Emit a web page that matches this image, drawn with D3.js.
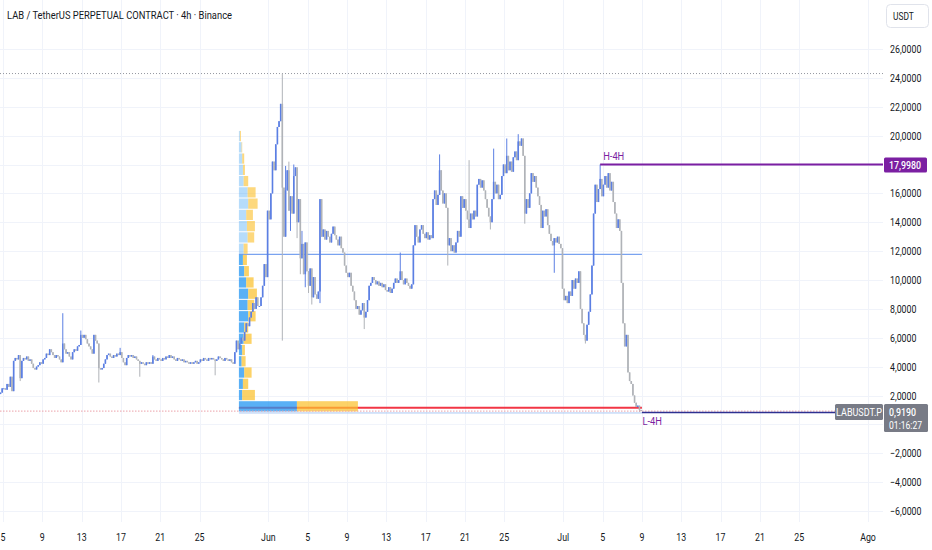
<!DOCTYPE html>
<html>
<head>
<meta charset="utf-8">
<script src="https://cdn.jsdelivr.net/npm/d3@7"></script>
<style>
  body { margin: 0; background: #fff; }
  svg { display: block; font-family: Roboto, "Noto Sans", sans-serif; }
</style>
</head>
<body>
<svg width="932" height="550"></svg>
<script>
// ---- data ----
const title = "LAB / TetherUS PERPETUAL CONTRACT · 4h · Binance";
const firstCandle = "2025-05-04T16:00:00Z";
const firstOpen = 2.1;

// 4h closes, one line per day
const closes = [
  2.2, 2.5,                              // May 4 (16h, 20h)
  2.5, 2.4, 2.8, 2.6, 3.3, 2.3,          // May 5
  4.4, 4.6, 4.5, 4.8, 3.2, 4.4,          // May 6
  4.6, 4.5, 4.7, 4.4, 4.5, 4.2,
  3.9, 3.8, 4.0, 4.1, 4.3, 4.2,
  4.5, 4.6, 4.9, 4.8, 5.2, 5.0,
  4.8, 4.6, 4.8, 4.7, 4.5, 4.3,          // May 10
  5.6, 5.2, 4.9, 5.0, 4.7, 4.5,
  5.0, 5.2, 5.1, 5.4, 5.5, 6.2,
  6.0, 6.2, 5.9, 5.6, 5.4, 5.2,
  4.9, 6.2, 5.8, 5.6, 3.9, 3.8,
  3.9, 4.2, 4.5, 4.8, 4.9, 4.7,          // May 15
  4.6, 4.8, 4.7, 4.9, 4.8, 5.0,
  4.6, 4.3, 4.1, 4.6, 4.8, 4.7,
  4.8, 4.6, 4.7, 4.5, 4.4, 4.2,
  4.3, 4.2, 4.1, 4.3, 4.2, 4.3,
  4.2, 4.7, 4.5, 4.4, 4.6, 4.5,          // May 20
  4.4, 4.6, 4.5, 4.7, 4.6, 4.8,
  4.6, 4.7, 4.5, 4.4, 4.6, 4.5,
  4.4, 4.5, 4.3, 4.4, 4.3, 4.2,
  4.3, 4.2, 4.3, 4.4, 4.2, 4.3,
  4.5, 4.4, 4.6, 4.5, 4.4, 4.6,          // May 25
  4.5, 4.6, 4.5, 4.4, 4.5, 4.7,
  4.6, 4.5, 4.4, 4.6, 4.5, 4.4,
  4.5, 4.3, 4.2, 5.0, 5.8, 5.2,
  5.6, 6.0, 5.8, 6.4, 7.0, 6.8,
  7.4, 7.8, 8.4, 8.0, 8.8, 8.2,          // May 30
  8.2, 8.8, 9.6, 11.1, 10.2, 14.8,
  14.2, 16.0, 18.2, 17.6, 19.4, 20.6,    // Jun 1
  21.0, 22.2, 16.4, 13.0, 16.2, 17.6,
  14.8, 15.8, 14.6, 17.2, 17.8, 14.0,
  15.6, 11.5, 12.5, 10.4, 12.6, 10.6,
  9.6, 10.8, 8.8, 10.2, 9.0, 8.7,        // Jun 5
  9.2, 15.6, 13.0, 13.5, 12.8, 13.4,
  13.0, 12.6, 13.2, 13.7, 13.1, 12.8,
  12.4, 13.0, 12.2, 11.9, 11.0, 10.5,
  10.2, 10.5, 9.6, 9.2, 8.6, 8.0,
  8.2, 7.6, 7.9, 8.4, 7.4, 7.8,          // Jun 10
  8.6, 9.6, 9.8, 10.2, 10.0, 9.7,
  9.9, 9.6, 9.8, 9.5, 9.7, 9.3,
  9.2, 9.5, 9.1, 9.4, 9.8, 10.1,
  9.8, 10.0, 10.6, 10.0, 9.7, 10.1,
  9.8, 9.6, 9.4, 9.7, 12.4, 13.8,        // Jun 15
  13.0, 12.6, 13.5, 13.8, 13.2, 12.9,
  13.3, 12.8, 13.1, 12.9, 15.6, 16.2,
  15.2, 15.9, 17.6, 16.2, 15.3, 16.0,
  15.0, 12.4, 12.9, 12.0, 12.4, 11.9,
  12.6, 13.4, 13.0, 15.8, 15.0, 15.6,    // Jun 20
  14.8, 14.2, 13.6, 14.6, 14.2, 14.8,
  14.4, 16.6, 17.0, 16.4, 16.9, 16.2,
  15.6, 15.0, 14.4, 14.0, 15.6, 16.8,
  16.0, 16.6, 15.6, 15.9, 17.2, 18.0,
  17.4, 18.6, 17.6, 18.2, 17.5, 18.5,    // Jun 25
  18.9, 18.3, 19.6, 19.3, 19.8, 18.6,
  14.6, 15.6, 15.0, 16.0, 17.4, 16.8,
  17.2, 16.4, 15.8, 15.2, 13.6, 14.8,
  14.4, 14.9, 13.8, 13.2, 12.7, 12.4,
  12.9, 12.6, 13.0, 12.5, 12.2, 9.4,     // Jun 30
  8.6, 8.9, 8.4, 9.2, 8.9, 10.0,         // Jul 1
  9.4, 10.1, 9.8, 10.6, 8.0, 7.0,
  6.2, 5.8, 6.9, 7.8, 9.0, 11.0,
  14.6, 16.6, 15.4, 16.3, 17.0, 15.8,
  16.6, 17.2, 16.4, 17.4, 16.2, 16.8,    // Jul 5
  15.4, 14.6, 13.6, 14.2, 13.4, 9.8,
  7.0, 5.4, 6.2, 3.6, 3.0, 2.8,
  2.0, 1.5, 1.2, 1.3, 1.0, 0.919         // Jul 8
];

// visible wicks: [candle index, high, low]
const wicks = [
  [12, null, 3.0], [38, 7.7, null], [49, 6.5, null], [60, null, 2.9],
  [73, 5.3, null], [85, null, 3.3], [93, 4.8, null], [131, null, 3.4],
  [172, 24.3, 5.8], [174, 17.9, null], [176, 18.2, null], [177, null, 13.4],
  [179, 18.0, null], [181, null, 12.9], [183, null, 10.4], [184, 13.4, null],
  [186, null, 9.5], [188, null, 9.1], [190, null, 8.3], [195, null, 8.4],
  [222, null, 6.6], [244, 11.9, null],
  [268, 18.7, null], [273, null, 11.0], [286, 18.3, null], [299, null, 13.5],
  [301, 19.1, null], [309, 19.8, null], [316, 20.1, null], [320, null, 13.9],
  [338, null, 10.5], [357, null, 5.6], [366, 17.998, null], [390, null, 0.86]
];

// volume profile rows, bottom to top
const vpStart = "2025-05-29T00:00:00Z";
const vpLow = 0.86;
const vpStep = 0.78;
const vpUp =   [58, 3.3, 4, 5.3, 2.7, 3.3, 4.7, 5.3, 9.3, 8.7, 9.3, 7.3, 5.3, 4, 4.7, 8.7, 8, 7.3, 9.3, 8.7, 4.7, 4, 3.3, 2.7, 1];
const vpDown = [61, 12.7, 5.3, 7.4, 4, 2.7, 8, 4, 7.4, 6.6, 8.7, 7.4, 4.7, 4, 4, 6.6, 8, 6.7, 9.4, 8, 4.6, 2, 2, 0.6, 1];
const vaRows = 14;

const athLevel = 24.3;
const highLevel = 17.998, highLabel = "H-4H";
const lowLevel = 0.86, lowLabel = "L-4H";
const lastPrice = 0.919, countdown = "01:16:27", symbol = "LABUSDT.P";

const priceTicks = [26, 24, 22, 20, 16, 14, 12, 10, 8, 6, 4, 2, -2, -4, -6];
const dateTicks = [
  "2025-05-05", "2025-05-09", "2025-05-13", "2025-05-17", "2025-05-21", "2025-05-25",
  "2025-06-01", "2025-06-05", "2025-06-09", "2025-06-13", "2025-06-17", "2025-06-21", "2025-06-25",
  "2025-07-01", "2025-07-05", "2025-07-09", "2025-07-13", "2025-07-17", "2025-07-21", "2025-07-25",
  "2025-08-01"
];
const monthNames = ["Jan", "Fev", "Mar", "Abr", "Mai", "Jun", "Jul", "Ago", "Set", "Out", "Nov", "Dez"];

// ---- layout ----
const svg = d3.select("svg");
const plotRight = 883, plotBottom = 522;
const upColor = "#5b7fe3", downColor = "#b0b3b8";
const H4 = 4 * 3600 * 1000;

const x = d3.scaleUtc()
  .domain([new Date("2025-05-05T00:00:00Z"), new Date("2025-08-01T00:00:00Z")])
  .range([3, 868]);
const y = d3.scaleLinear().domain([-6, 26]).range([511, 49]);

const loc = d3.formatLocale({ decimal: ",", thousands: ".", grouping: [3], currency: ["", ""], minus: "\u2212" });
const fmt = loc.format(".4f");

function label(g, px, py, s, o = {}) {
  return g.append("text")
    .attr("transform", `translate(${px},${py}) scale(${o.sx || 0.8},1)`)
    .attr("text-anchor", o.anchor || "start")
    .attr("font-size", o.size || 11)
    .attr("font-weight", o.weight || 400)
    .attr("fill", o.fill || "#131722")
    .text(s);
}

// grid
const grid = svg.append("g").attr("stroke", "#f0f3fa").attr("stroke-width", 1);
grid.selectAll(".gx").data(dateTicks).join("line")
  .attr("x1", d => Math.round(x(new Date(d + "T00:00:00Z"))) + 0.5)
  .attr("x2", d => Math.round(x(new Date(d + "T00:00:00Z"))) + 0.5)
  .attr("y1", 0).attr("y2", plotBottom);
grid.selectAll(".gy").data(priceTicks.concat([18, 0])).join("line")
  .attr("x1", 0).attr("x2", plotRight)
  .attr("y1", d => Math.round(y(d)) + 0.5).attr("y2", d => Math.round(y(d)) + 0.5);

// candles
const t0 = new Date(firstCandle).getTime();
const candles = closes.map((c, i) => {
  const o = i === 0 ? firstOpen : closes[i - 1];
  return { t: t0 + i * H4, o, c, h: Math.max(o, c), l: Math.min(o, c) };
});
wicks.forEach(([i, h, l]) => {
  if (h != null) candles[i].h = h;
  if (l != null) candles[i].l = l;
});
const cx = d => x(new Date(d.t + H4 / 2));
const lastC = candles[candles.length - 1];
const lastX = x(new Date(lastC.t + H4));
const vpX0 = x(new Date(vpStart));

// ATH dotted level
svg.append("line")
  .attr("x1", 0).attr("x2", plotRight)
  .attr("y1", y(athLevel)).attr("y2", y(athLevel))
  .attr("stroke", "#9598a1").attr("stroke-dasharray", "1,2");

// value area high and POC lines
const vaHigh = vpLow + vaRows * vpStep;
const pocIdx = d3.maxIndex(vpUp.map((u, i) => u + vpDown[i]));
const pocPrice = vpLow + (pocIdx + 0.5) * vpStep;
svg.append("line")
  .attr("x1", vpX0).attr("x2", lastX)
  .attr("y1", y(vaHigh)).attr("y2", y(vaHigh))
  .attr("stroke", "#7aa3f0").attr("stroke-width", 1.3);
svg.append("line")
  .attr("x1", vpX0).attr("x2", lastX)
  .attr("y1", y(pocPrice) + 1.5).attr("y2", y(pocPrice) + 1.5)
  .attr("stroke", "#f23645").attr("stroke-width", 2);
svg.append("line")
  .attr("x1", vpX0).attr("x2", lastX)
  .attr("y1", y(vpLow) + 1).attr("y2", y(vpLow) + 1)
  .attr("stroke", "#a9c9f5").attr("stroke-width", 1);

// volume profile
const vpW = d3.scaleLinear().domain([0, d3.max(vpUp.map((u, i) => u + vpDown[i]))]).range([0, 119]);
const rows = vpUp.map((u, i) => ({ i, u, d: vpDown[i], lo: vpLow + i * vpStep, hi: vpLow + (i + 1) * vpStep }));
const vp = svg.append("g");
vp.selectAll(".up").data(rows).join("rect")
  .attr("x", vpX0).attr("width", r => vpW(r.u))
  .attr("y", r => y(r.hi) + 0.5).attr("height", r => y(r.lo) - y(r.hi) - 1)
  .attr("fill", r => r.i < vaRows ? "rgba(33,150,243,0.75)" : "rgba(33,150,243,0.33)");
vp.selectAll(".dn").data(rows).join("rect")
  .attr("x", r => vpX0 + vpW(r.u)).attr("width", r => vpW(r.d))
  .attr("y", r => y(r.hi) + 0.5).attr("height", r => y(r.lo) - y(r.hi) - 1)
  .attr("fill", r => r.i < vaRows ? "rgba(251,192,45,0.72)" : "rgba(251,192,45,0.62)");

// candles drawn over the profile
const cg = svg.append("g");
cg.selectAll("line").data(candles).join("line")
  .attr("x1", cx).attr("x2", cx)
  .attr("y1", d => y(d.h)).attr("y2", d => y(d.l))
  .attr("stroke", d => d.c >= d.o ? upColor : downColor).attr("stroke-width", 1);
cg.selectAll("rect").data(candles).join("rect")
  .attr("x", d => cx(d) - 0.8).attr("width", 1.6)
  .attr("y", d => y(Math.max(d.o, d.c)))
  .attr("height", d => Math.max(1, Math.abs(y(d.o) - y(d.c))))
  .attr("fill", d => d.c >= d.o ? upColor : downColor);

// current price dotted line
svg.append("line")
  .attr("x1", 0).attr("x2", plotRight)
  .attr("y1", y(lastPrice)).attr("y2", y(lastPrice))
  .attr("stroke", "#eba0a8").attr("stroke-dasharray", "1.5,1.5");

// H-4H / L-4H levels
const hiC = candles.find(c => c.h === highLevel);
svg.append("line")
  .attr("x1", cx(hiC)).attr("x2", plotRight)
  .attr("y1", y(highLevel)).attr("y2", y(highLevel))
  .attr("stroke", "#7b1fa2").attr("stroke-width", 2);
label(svg, cx(hiC) + 3, y(highLevel) - 5, highLabel, { fill: "#7b1fa2", sx: 0.85 });
const loC = candles.find(c => c.l === lowLevel);
svg.append("line")
  .attr("x1", lastX).attr("x2", plotRight)
  .attr("y1", y(lowLevel) + 0.5).attr("y2", y(lowLevel) + 0.5)
  .attr("stroke", "#2e3192").attr("stroke-width", 1.5);
label(svg, cx(loC) + 3, y(lowLevel) + 13, lowLabel, { fill: "#7b1fa2", sx: 0.85 });

// title
svg.append("text").attr("x", 7).attr("y", 19)
  .attr("font-size", 11.5).attr("fill", "#131722")
  .attr("textLength", 225).attr("lengthAdjust", "spacingAndGlyphs")
  .text(title);

// right price axis
const ax = svg.append("g");
priceTicks.forEach(v => label(ax, 890, y(v) + 4, fmt(v)));
ax.append("rect").attr("x", 886.5).attr("y", 4.5).attr("width", 42).attr("height", 23).attr("rx", 4)
  .attr("fill", "#fff").attr("stroke", "#e0e3eb");
label(ax, 893, 20, "USDT", { size: 10.5 });

ax.append("rect").attr("x", 884).attr("y", y(highLevel) - 7).attr("width", 43).attr("height", 15).attr("rx", 1.5)
  .attr("fill", "#7b1fa2");
label(ax, 889, y(highLevel) + 4.5, fmt(highLevel).slice(0, 7), { fill: "#fff", weight: 500 });

ax.append("rect").attr("x", 835).attr("y", y(lastPrice) - 7).attr("width", 48).attr("height", 16).attr("rx", 1.5)
  .attr("fill", "#787b86");
label(ax, 859, y(lastPrice) + 4.5, symbol, { fill: "#fff", anchor: "middle", sx: 0.82 });
ax.append("rect").attr("x", 884).attr("y", y(lastPrice) - 7).attr("width", 44).attr("height", 28).attr("rx", 1.5)
  .attr("fill", "#787b86");
label(ax, 889, y(lastPrice) + 4.5, fmt(lastPrice), { fill: "#fff", weight: 500 });
label(ax, 889, y(lastPrice) + 17.5, countdown, { fill: "#fff", sx: 0.78 });

// time axis
const tx = svg.append("g");
dateTicks.forEach(s => {
  const d = new Date(s + "T00:00:00Z");
  const txt = d.getUTCDate() === 1 ? monthNames[d.getUTCMonth()] : String(d.getUTCDate());
  label(tx, x(d), 541, txt, { anchor: "middle" });
});
</script>
</body>
</html>
